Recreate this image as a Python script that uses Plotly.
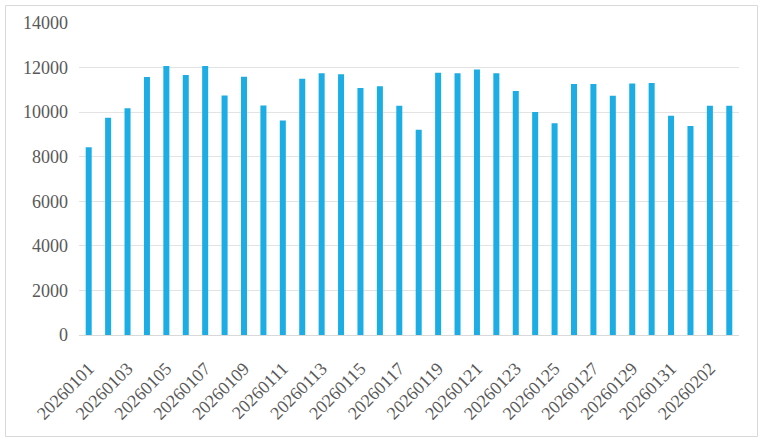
import plotly.graph_objects as go

dates = [f"202601{d:02d}" for d in range(1, 32)] + ["20260201", "20260202", "20260203"]
values = [8420, 9750, 10170, 11580, 12070, 11670, 12070, 10750, 11590, 10300,
          9620, 11500, 11740, 11700, 11080, 11160, 10290, 9210, 11770, 11740,
          11910, 11740, 10950, 10010, 9500, 11260, 11260, 10740, 11280, 11310,
          9840, 9380, 10290, 10290]
tick_labels = dates[::2]
y_ticks = [0, 2000, 4000, 6000, 8000, 10000, 12000, 14000]

W, H = 764, 442
L, R, T, B = 79, 25, 23, 107
pw, ph = W - L - R, H - T - B

fig = go.Figure(go.Bar(x=dates, y=values, marker_color="#1CADE4", marker_line_width=0,
                       hoverinfo="skip"))

yfont = dict(family="Liberation Serif", size=18, color="#595959")
xfont = dict(family="Liberation Serif", size=18, color="#595959")

def px_x(p):
    return (p - L) / pw

def px_y(p):
    return (H - B - p) / ph

fig.update_layout(
    width=W, height=H,
    margin=dict(l=L, r=R, t=T, b=B, autoexpand=False),
    plot_bgcolor="white", paper_bgcolor="white",
    bargap=0.69,
    showlegend=False,
    font=yfont,
    xaxis=dict(type="category", tickvals=tick_labels, ticktext=tick_labels,
               tickangle=-45, showgrid=False, showline=True, linecolor="#d9d9d9",
               linewidth=1, ticks="", tickfont=xfont, automargin=False,
               ticklabelstandoff=15, range=[-0.5, len(dates) - 0.5]),
    yaxis=dict(range=[0, 14000], tickvals=y_ticks, tickformat="d", showgrid=True,
               gridcolor="#e3e3e3", gridwidth=1, zeroline=False, showline=False,
               ticks="", tickfont=yfont, automargin=False, ticklabelstandoff=10),
    shapes=[dict(type="rect", xref="paper", yref="paper",
                 x0=px_x(5.5), x1=px_x(757.5), y0=px_y(5.5), y1=px_y(436.5),
                 line=dict(color="#d9d9d9", width=1), fillcolor="rgba(0,0,0,0)", layer="below")],
)

fig.write_html("out.html", config={"displayModeBar": False},
               post_script="document.body.style.margin='0';document.body.style.overflow='hidden';")
